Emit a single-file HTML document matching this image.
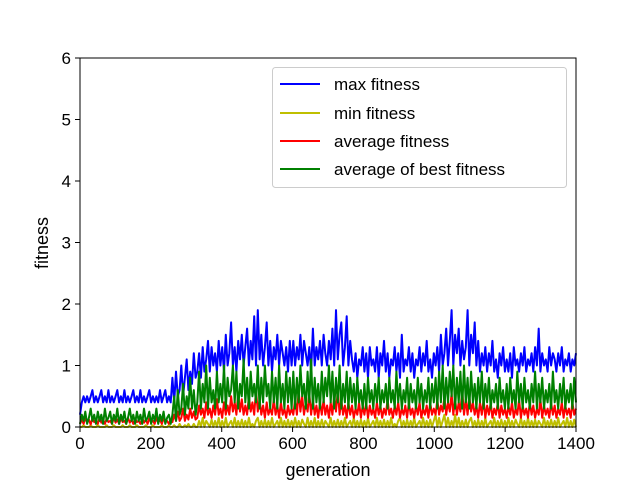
<!DOCTYPE html>
<html><head><meta charset="utf-8"><style>
body{margin:0;background:#fff;position:relative;width:640px;height:480px;overflow:hidden;}
svg{display:block;font-family:"Liberation Sans","DejaVu Sans",sans-serif;}
</style></head><body>
<svg id="c" width="640" height="480" xmlns="http://www.w3.org/2000/svg" style="position:absolute;left:0;top:0"></svg>
<script>
const xTicks=[0,200,400,600,800,1000,1200,1400];
const yTicks=[0,1,2,3,4,5,6];
const maxFitness=[0.2,0.4,0.5,0.4,0.5,0.4,0.5,0.6,0.4,0.5,0.4,0.5,0.6,0.4,0.5,0.4,0.6,0.4,0.5,0.4,0.5,0.6,0.4,0.5,0.4,0.6,0.4,0.5,0.4,0.5,0.6,0.4,0.5,0.4,0.6,0.4,0.5,0.4,0.5,0.6,0.4,0.5,0.4,0.5,0.4,0.6,0.4,0.5,0.6,0.4,0.5,0.4,
0.8,0.4,0.9,0.5,0.6,1.0,0.5,0.8,1.1,0.6,0.9,0.7,1.2,0.8,
0.9,1.2,0.8,1.3,0.9,1.1,1.4,0.9,1.3,1.0,1.2,0.9,1.4,1.0,
1.3,0.9,1.5,1.0,1.2,1.7,1.0,1.3,0.9,1.4,1.1,1.5,1.0,1.3,1.6,1.0,1.4,1.1,1.8,1.0,1.9,1.1,1.5,1.0,1.3,1.7,1.0,1.4,0.9,1.3,1.1,1.5,1.0,1.4,1.2,1.0,1.3,0.9,1.4,1.0,
1.4,1.0,1.3,1.1,1.5,1.0,1.4,1.2,1.0,1.3,0.9,1.6,1.0,1.3,1.1,1.4,1.0,1.5,1.2,1.0,1.4,1.1,1.6,1.0,1.9,1.1,1.5,1.7,1.0,1.3,1.8,1.0,1.4,1.1,0.9,1.2,0.8,1.1,1.0,1.3,
0.9,1.2,0.8,1.3,1.0,1.1,0.9,1.3,0.8,1.2,1.0,1.4,0.9,1.2,0.8,1.1,1.0,1.3,0.9,1.2,0.8,1.5,0.9,1.1,1.0,1.3,0.9,1.2,0.8,1.1,1.0,1.3,0.9,1.2,1.0,1.4,0.9,1.1,0.8,1.2,
1.0,1.3,0.9,1.5,1.0,1.2,1.6,1.0,1.4,1.9,1.0,1.5,1.2,1.6,1.0,1.4,1.1,1.3,1.9,1.0,1.5,1.2,1.7,1.0,1.4,0.9,1.2,1.0,1.3,0.9,1.2,1.0,1.4,0.9,1.1,0.8,1.2,1.0,1.3,0.9,
1.1,0.9,1.2,0.8,1.3,1.0,1.1,0.9,1.2,1.0,1.3,0.9,1.1,1.0,1.2,0.9,1.3,1.0,1.6,0.9,1.2,1.0,1.1,0.9,1.3,1.0,1.2,1.1,0.9,1.2,1.0,1.3,0.9,1.1,1.0,1.2,0.9,1.1,1.0,1.2];
const minFitness=[0,0,0.03,0,0,0,0.03,0,0,0,0.03,0,0,0,0,0.03,0,0,0,0.03,0,0,0,0,0.03,0,0,0,0.03,0,0,0,0.03,0,0,0,0,0.03,0,0,0,0.03,0,0,0,0,0.03,0,0,0,0.03,0,
0,0.03,0,0,0.05,0,0,0.03,0,0.05,0,0,0.05,0,
0,0.1,0,0.15,0,0.1,0.05,0,0.12,0,0.1,0,0.15,0,
0.1,0,0.15,0,0.05,0.1,0,0.15,0,0.1,0,0.12,0,0.1,0,0.15,0,0.05,0,0.1,0.15,0,0.1,0,0.12,0,0.1,0,0.15,0,0.05,0.1,0,0.15,0,0.1,0,0.12,0,0.1,
0,0.15,0,0.1,0,0.12,0.05,0,0.15,0,0.1,0,0.15,0,0.1,0,0.12,0,0.1,0.05,0,0.15,0,0.1,0,0.12,0,0.1,0,0.15,0,0.05,0.1,0,0.15,0,0.1,0,0.12,0,
0.1,0,0.15,0,0.05,0.1,0,0.15,0,0.1,0,0.12,0,0.1,0,0.15,0,0.05,0,0.1,0.15,0,0.1,0,0.12,0,0.1,0,0.15,0,0.05,0.1,0,0.15,0,0.1,0,0.12,0,0.1,
0.2,0,0.15,0,0.1,0.2,0,0.15,0,0.1,0,0.2,0,0.15,0,0.1,0,0.12,0,0.1,0.15,0,0.1,0,0.12,0,0.1,0,0.15,0,0.05,0.1,0,0.15,0,0.1,0,0.12,0,0.1,
0,0.15,0,0.1,0,0.12,0.05,0,0.15,0,0.1,0,0.15,0,0.1,0,0.12,0,0.1,0.05,0,0.15,0,0.1,0,0.12,0,0.1,0,0.15,0,0.05,0.1,0,0.15,0,0.1,0,0.12,0];
const avgFitness=[0.05,0.12,0.05,0.15,0.08,0.12,0.04,0.14,0.08,0.1,0.05,0.15,0.07,0.12,0.05,0.14,0.08,0.1,0.05,0.15,0.07,0.12,0.05,0.14,0.08,0.1,0.05,0.15,0.07,0.12,0.05,0.14,0.08,0.1,0.05,0.15,0.07,0.12,0.05,0.14,0.08,0.1,0.05,0.15,0.07,0.12,0.05,0.14,0.08,0.1,0.05,0.12,
0.08,0.2,0.1,0.25,0.1,0.15,0.3,0.1,0.2,0.12,0.3,0.15,0.25,0.12,
0.15,0.35,0.2,0.3,0.15,0.4,0.2,0.3,0.15,0.35,0.2,0.45,0.2,0.3,
0.15,0.4,0.2,0.35,0.2,0.5,0.25,0.4,0.2,0.55,0.25,0.45,0.2,0.35,0.2,0.5,0.25,0.4,0.2,0.6,0.25,0.45,0.2,0.35,0.15,0.4,0.2,0.3,0.2,0.45,0.2,0.35,0.15,0.4,0.2,0.3,0.15,0.35,0.2,0.3,
0.2,0.45,0.2,0.6,0.25,0.5,0.2,0.4,0.25,0.55,0.2,0.45,0.2,0.35,0.15,0.4,0.2,0.45,0.2,0.35,0.15,0.4,0.2,0.5,0.25,0.6,0.2,0.45,0.2,0.35,0.15,0.4,0.2,0.35,0.15,0.3,0.2,0.4,0.15,0.35,
0.2,0.4,0.15,0.35,0.2,0.3,0.15,0.4,0.2,0.35,0.15,0.3,0.2,0.45,0.2,0.3,0.15,0.35,0.2,0.4,0.15,0.3,0.2,0.35,0.15,0.4,0.2,0.3,0.15,0.35,0.2,0.4,0.15,0.3,0.2,0.35,0.15,0.4,0.2,0.3,
0.2,0.45,0.2,0.35,0.25,0.5,0.2,0.4,0.25,0.55,0.2,0.45,0.2,0.4,0.25,0.6,0.2,0.45,0.2,0.5,0.25,0.4,0.2,0.35,0.15,0.4,0.2,0.45,0.15,0.35,0.2,0.4,0.15,0.3,0.2,0.4,0.15,0.35,0.2,0.3,
0.15,0.35,0.2,0.4,0.15,0.3,0.2,0.45,0.15,0.35,0.2,0.3,0.15,0.4,0.2,0.35,0.15,0.3,0.2,0.45,0.15,0.35,0.2,0.3,0.15,0.4,0.2,0.35,0.15,0.3,0.2,0.4,0.15,0.35,0.2,0.3,0.15,0.4,0.2,0.3];
const bestFitness=[0.05,0.2,0.1,0.25,0.05,0.15,0.3,0.1,0.2,0.05,0.25,0.1,0.2,0.05,0.3,0.1,0.15,0.25,0.05,0.2,0.1,0.3,0.05,0.2,0.1,0.25,0.05,0.15,0.3,0.1,0.2,0.05,0.25,0.1,0.2,0.05,0.3,0.1,0.15,0.25,0.05,0.2,0.1,0.3,0.05,0.2,0.1,0.25,0.05,0.15,0.2,0.05,
0.2,0.5,0.1,0.6,0.2,0.3,0.7,0.2,0.5,0.3,0.8,0.3,0.6,0.2,
0.4,0.9,0.3,0.7,0.4,1.0,0.3,0.8,0.4,0.6,0.3,0.9,0.4,0.7,
0.4,1.0,0.3,0.8,0.5,0.6,1.0,0.4,0.9,0.3,0.7,0.5,1.1,0.4,0.8,0.3,0.9,0.5,0.7,0.4,1.0,0.3,0.8,0.4,1.0,0.5,0.7,0.3,0.9,0.4,0.8,0.3,1.0,0.4,0.7,0.3,0.9,0.4,0.8,0.3,
0.9,0.3,0.8,0.4,1.0,0.5,0.7,0.3,0.9,0.4,1.1,0.3,0.8,0.4,0.7,0.3,0.9,0.4,0.8,0.5,1.0,0.4,0.9,0.3,0.8,0.4,1.0,0.3,0.7,0.4,0.9,0.3,0.8,0.4,0.7,0.3,0.8,0.4,0.6,0.3,
0.7,0.3,0.8,0.4,0.6,0.3,0.7,0.4,0.8,0.3,0.6,0.4,0.7,0.3,0.8,0.4,0.6,0.3,0.9,0.4,0.7,0.3,0.6,0.4,0.8,0.3,0.7,0.4,0.6,0.3,0.8,0.4,0.7,0.3,0.6,0.4,0.8,0.3,0.7,0.4,
0.8,0.3,0.9,0.4,1.0,0.3,0.8,0.4,0.9,0.5,1.0,0.3,0.8,0.4,0.9,0.3,1.0,0.4,0.8,0.3,0.9,0.4,0.7,0.3,0.8,0.4,0.9,0.3,0.7,0.4,0.8,0.3,0.6,0.4,0.7,0.3,0.8,0.4,0.6,0.3,
0.7,0.3,0.8,0.4,0.6,0.3,0.9,0.4,0.7,0.3,0.8,0.4,0.6,0.3,0.7,0.4,0.9,0.3,0.7,0.4,0.8,0.3,0.6,0.4,0.7,0.3,0.9,0.4,0.6,0.3,0.7,0.4,0.8,0.3,0.6,0.4,0.7,0.3,0.8,0.4];
const NS="http://www.w3.org/2000/svg";
const svg=document.getElementById('c');
const L=80,R=576,T=58,B=427;
const xs=v=>L+(v/1400)*(R-L);
const ys=v=>B-(v/6)*(B-T);
function mk(tag,attrs,parent){const e=document.createElementNS(NS,tag);for(const k in attrs)e.setAttribute(k,attrs[k]);(parent||svg).appendChild(e);return e;}
function series(arr,color,name){
  const step=1400/(arr.length-1);
  const d=arr.map((v,i)=>(i?'L':'M')+xs(i*step).toFixed(1)+','+ys(v).toFixed(1)).join('');
  const p=mk('path',{d:d,fill:'none',stroke:color,'stroke-width':2,'stroke-linejoin':'round'});
  
  
}
series(maxFitness,'#0000ff','max-fitness-line');
series(minFitness,'#bfbf00','min-fitness-line');
series(avgFitness,'#ff0000','average-fitness-line');
series(bestFitness,'#008000','average-best-fitness-line');
const frame=mk('rect',{x:L,y:T,width:R-L,height:B-T,fill:'none',stroke:'#000','stroke-width':1});


xTicks.forEach(t=>{
  mk('line',{x1:xs(t),x2:xs(t),y1:B,y2:B+5,stroke:'#000'});
  const tx=mk('text',{x:xs(t),y:B+22,'text-anchor':'middle','font-size':17});
  tx.textContent=t;
  
  
});
yTicks.forEach(t=>{
  mk('line',{x1:L-5,x2:L,y1:ys(t),y2:ys(t),stroke:'#000'});
  const tx=mk('text',{x:L-9,y:ys(t)+6,'text-anchor':'end','font-size':17});
  tx.textContent=t;
  
  
});
</script>
<svg width="640" height="480" style="position:absolute;left:0;top:0">
<g font-family="Liberation Sans, sans-serif">
<text transform="translate(48,243) rotate(-90)" text-anchor="middle" font-size="18">fitness</text>
<text x="328" y="476" text-anchor="middle" font-size="18">generation</text>
<g>
<rect x="272.5" y="67.5" width="294" height="120" rx="3" fill="#fff" fill-opacity="0.8" stroke="#ccc"/>
<line x1="280" x2="320" y1="84" y2="84" stroke="#0000ff" stroke-width="2"/>
<text x="334" y="90" font-size="17">max fitness</text>
<line x1="280" x2="320" y1="113" y2="113" stroke="#bfbf00" stroke-width="2"/>
<text x="334" y="119" font-size="17">min fitness</text>
<line x1="280" x2="320" y1="141" y2="141" stroke="#ff0000" stroke-width="2"/>
<text x="334" y="147" font-size="17">average fitness</text>
<line x1="280" x2="320" y1="169" y2="169" stroke="#008000" stroke-width="2"/>
<text x="334" y="175" font-size="17">average of best fitness</text>
</g></g></svg>
</body></html>
